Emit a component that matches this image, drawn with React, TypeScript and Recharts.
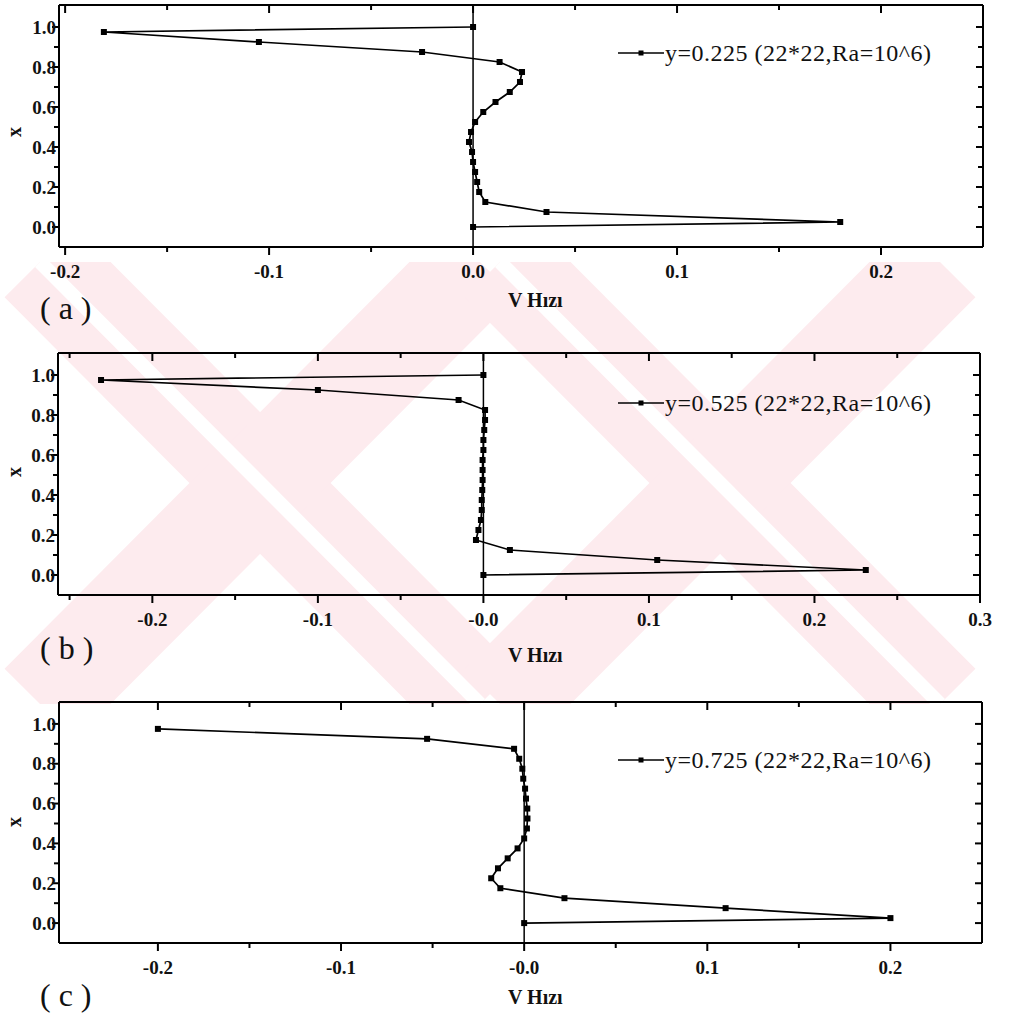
import React from 'react';
import { LineChart, Line, XAxis, YAxis, ReferenceLine, Legend } from 'recharts';

// grid positions along x (22 nodes), read from the top of each profile down
const posX = [1.0, 0.975, 0.925, 0.875, 0.825, 0.775, 0.725, 0.675, 0.625, 0.575, 0.525,
  0.475, 0.425, 0.375, 0.325, 0.275, 0.225, 0.175, 0.125, 0.075, 0.025, 0.0];

// V velocity at y=0.225
const vA = [0, -0.181, -0.105, -0.025, 0.013, 0.024, 0.023, 0.018, 0.011, 0.005, 0.001,
  -0.001, -0.002, -0.0005, 0.0, 0.001, 0.002, 0.003, 0.006, 0.036, 0.18, 0];
// V velocity at y=0.525
const vB = [0, -0.231, -0.1, -0.015, 0.001, 0.001, 0.0005, 0.0, 0.0, -0.0005, -0.0005,
  -0.0005, -0.0007, -0.001, -0.001, -0.0015, -0.003, -0.0045, 0.016, 0.105, 0.231, 0];
// V velocity at y=0.725 (no point drawn at x=1.0)
const vC = [null, -0.2, -0.053, -0.0055, -0.0027, -0.001, -0.0005, 0.0005, 0.001, 0.0017, 0.0018,
  0.0015, 0.0, -0.0036, -0.009, -0.0143, -0.018, -0.013, 0.022, 0.11, 0.2, 0];

const xMajorA = [-0.2, -0.1, 0, 0.1, 0.2];
const xLabelsA = ['-0.2', '-0.1', '0.0', '0.1', '0.2'];
const xMinorA = [-0.15, -0.05, 0.05, 0.15];

const xMajorB = [-0.2, -0.1, 0, 0.1, 0.2, 0.3];
const xLabelsB = ['-0.2', '-0.1', '-0.0', '0.1', '0.2', '0.3'];
const xMinorB = [-0.25, -0.15, -0.05, 0.05, 0.15, 0.25];

const xMajorC = [-0.2, -0.1, 0, 0.1, 0.2];
const xLabelsC = ['-0.2', '-0.1', '-0.0', '0.1', '0.2'];
const xMinorC = [-0.15, -0.05, 0.05, 0.15];

const yMajor = [0, 0.2, 0.4, 0.6, 0.8, 1.0];
const yLabels = ['0.0', '0.2', '0.4', '0.6', '0.8', '1.0'];
const yMinor = [0.1, 0.3, 0.5, 0.7, 0.9];

const legendA = 'y=0.225 (22*22,Ra=10^6)';
const legendB = 'y=0.525 (22*22,Ra=10^6)';
const legendC = 'y=0.725 (22*22,Ra=10^6)';

const FONT = '"Liberation Serif", "Times New Roman", serif';

const findIdx = (v: number, list: number[]) => list.findIndex((m) => Math.abs(m - v) < 1e-9);

const xTick = (majors: number[], labels: string[], side: 'top' | 'bottom') => (props: any) => {
  const { x, y, payload } = props;
  const i = findIdx(payload.value, majors);
  const len = i >= 0 ? 8 : 5;
  if (side === 'top') {
    return <line x1={x} y1={y} x2={x} y2={y + len} stroke="#000" strokeWidth={2} />;
  }
  return (
    <g>
      <line x1={x} y1={y} x2={x} y2={y + len} stroke="#000" strokeWidth={2} />
      {i >= 0 && (
        <text x={x} y={y + 31} textAnchor="middle" fontFamily={FONT} fontWeight="bold" fontSize={19} fill="#111">
          {labels[i]}
        </text>
      )}
    </g>
  );
};

const yTick = (side: 'left' | 'right') => (props: any) => {
  const { x, y, payload } = props;
  const i = findIdx(payload.value, yMajor);
  const len = i >= 0 ? 7 : 5;
  if (side === 'right') {
    return <line x1={x} y1={y} x2={x - len} y2={y} stroke="#000" strokeWidth={2} />;
  }
  return (
    <g>
      <line x1={x} y1={y} x2={x - len} y2={y} stroke="#000" strokeWidth={2} />
      {i >= 0 && (
        <text x={x - 3} y={y} dy="0.35em" textAnchor="end" fontFamily={FONT} fontWeight="bold" fontSize={19} fill="#111">
          {yLabels[i]}
        </text>
      )}
    </g>
  );
};

const SquareDot = (props: any) => {
  const { cx, cy, index } = props;
  if (cx == null || cy == null) return <g key={index} />;
  return <rect key={index} x={cx - 3} y={cy - 3} width={6} height={6} fill="#000" />;
};

const LegendBox = ({ text }: { text: string }) => (
  <div style={{ display: 'flex', alignItems: 'center', whiteSpace: 'nowrap' }}>
    <svg width={48} height={10}>
      <line x1={1} y1={5} x2={47} y2={5} stroke="#000" strokeWidth={1.6} />
      <rect x={21.5} y={2.5} width={5} height={5} fill="#000" />
    </svg>
    <span style={{ fontFamily: FONT, fontSize: 24, letterSpacing: 0.5, color: '#111', lineHeight: '26px' }}>{text}</span>
  </div>
);

interface PanelProps {
  values: (number | null)[];
  xDomain: [number, number];
  xMajor: number[];
  xLabels: string[];
  xMinor: number[];
  legend: string;
  legendY: number;
  plotLeft: number;
  plotRight: number;
  plotTop: number;
  plotBottom: number;
}

const TOP_H = 5;
const BOTTOM_H = 45;
const LEFT_W = 50;
const RIGHT_W = 10;

const Panel = (p: PanelProps) => {
  const data = posX
    .map((x, i) => ({ x, v: p.values[i] }))
    .filter((d) => d.v !== null);
  const xTicks = [...p.xMajor, ...p.xMinor]
    .filter((t) => t >= p.xDomain[0] && t <= p.xDomain[1])
    .sort((a, b) => a - b);
  const yTicks = [...yMajor, ...yMinor].sort((a, b) => a - b);
  const top = p.plotTop - TOP_H;
  const height = p.plotBottom - p.plotTop + TOP_H + BOTTOM_H;
  return (
    <div style={{ position: 'absolute', left: 0, top }}>
      <LineChart
        width={1030}
        height={height}
        data={data}
        margin={{ top: 0, bottom: 0, left: p.plotLeft - LEFT_W, right: 1030 - p.plotRight - RIGHT_W }}
      >
        <XAxis
          dataKey="v"
          type="number"
          domain={p.xDomain}
          allowDataOverflow
          ticks={xTicks}
          interval={0}
          height={BOTTOM_H}
          tickSize={0}
          tickMargin={0}
          axisLine={{ stroke: '#000', strokeWidth: 2 }}
          tickLine={false}
          tick={xTick(p.xMajor, p.xLabels, 'bottom')}
        />
        <XAxis
          xAxisId="top"
          orientation="top"
          dataKey="v"
          type="number"
          domain={p.xDomain}
          allowDataOverflow
          ticks={xTicks}
          interval={0}
          height={TOP_H}
          tickSize={0}
          tickMargin={0}
          axisLine={{ stroke: '#000', strokeWidth: 2 }}
          tickLine={false}
          tick={xTick(p.xMajor, p.xLabels, 'top')}
        />
        <YAxis
          type="number"
          domain={[-0.1, 1.11]}
          allowDataOverflow
          ticks={yTicks}
          interval={0}
          width={LEFT_W}
          tickSize={0}
          tickMargin={0}
          axisLine={{ stroke: '#000', strokeWidth: 2 }}
          tickLine={false}
          tick={yTick('left')}
        />
        <YAxis
          yAxisId="right"
          orientation="right"
          type="number"
          domain={[-0.1, 1.11]}
          allowDataOverflow
          ticks={yTicks}
          interval={0}
          width={RIGHT_W}
          tickSize={0}
          tickMargin={0}
          axisLine={{ stroke: '#000', strokeWidth: 2 }}
          tickLine={false}
          tick={yTick('right')}
        />
        <ReferenceLine x={0} stroke="#000" strokeWidth={1.5} />
        <Line
          dataKey="x"
          stroke="#000"
          strokeWidth={1.7}
          dot={SquareDot}
          activeDot={false}
          isAnimationActive={false}
        />
        <Line
          xAxisId="top"
          yAxisId="right"
          dataKey="x"
          stroke="none"
          dot={false}
          activeDot={false}
          legendType="none"
          isAnimationActive={false}
        />
        <Legend
          verticalAlign="middle"
          layout="horizontal"
          wrapperStyle={{ left: 617, top: p.legendY - top - 13, width: 'auto' }}
          content={() => <LegendBox text={p.legend} />}
        />
      </LineChart>
    </div>
  );
};

const Watermark = () => (
  <svg width={1030} height={1019} style={{ position: 'absolute', left: 0, top: 0 }}>
    <defs>
      <clipPath id="wm">
        <rect x={0} y={262} width={1030} height={442} />
      </clipPath>
    </defs>
    <g clipPath="url(#wm)" stroke="#fdebee" strokeWidth={100} strokeLinecap="butt">
      <line x1={40} y1={262} x2={480} y2={704} />
      <line x1={480} y1={262} x2={40} y2={704} />
      <line x1={500} y1={262} x2={940} y2={704} />
      <line x1={940} y1={262} x2={500} y2={704} />
    </g>
    <g clipPath="url(#wm)" stroke="#ffffff" strokeWidth={14} strokeLinecap="butt">
      <line x1={40} y1={262} x2={480} y2={704} />
      <line x1={500} y1={262} x2={940} y2={704} />
    </g>
  </svg>
);

const textBase: React.CSSProperties = { position: 'absolute', fontFamily: FONT, color: '#111', whiteSpace: 'nowrap' };

const XLabel = ({ top }: { top: number }) => (
  <div style={{ ...textBase, left: 5, top: top - 11, fontSize: 20, fontWeight: 'bold', transform: 'rotate(-90deg)', lineHeight: '22px', width: 18, textAlign: 'center' }}>
    x
  </div>
);

const VLabel = ({ top, left }: { top: number; left: number }) => (
  <div style={{ ...textBase, left, top: top - 11, fontSize: 20, fontWeight: 'bold', lineHeight: '22px' }}>V Hızı</div>
);

const PanelTag = ({ top, text }: { top: number; text: string }) => (
  <div style={{ ...textBase, left: 40, top: top - 18, fontSize: 32, lineHeight: '36px' }}>{text}</div>
);

export default function App() {
  return (
    <div style={{ position: 'absolute', left: 0, top: 0, width: 1030, height: 1019, background: '#fff', overflow: 'hidden' }}>
      <Watermark />
      <Panel values={vA} xDomain={[-0.203, 0.25]} xMajor={xMajorA} xLabels={xLabelsA} xMinor={xMinorA}
        legend={legendA} legendY={53} plotLeft={59} plotRight={983} plotTop={5} plotBottom={247} />
      <Panel values={vB} xDomain={[-0.257, 0.3]} xMajor={xMajorB} xLabels={xLabelsB} xMinor={xMinorB}
        legend={legendB} legendY={403} plotLeft={58} plotRight={980} plotTop={353} plotBottom={595} />
      <Panel values={vC} xDomain={[-0.254, 0.25]} xMajor={xMajorC} xLabels={xLabelsC} xMinor={xMinorC}
        legend={legendC} legendY={760} plotLeft={59} plotRight={982} plotTop={702} plotBottom={943} />
      <XLabel top={132} />
      <XLabel top={472} />
      <XLabel top={822} />
      <VLabel top={300} left={508} />
      <VLabel top={655} left={508} />
      <VLabel top={997} left={508} />
      <PanelTag top={308} text="( a )" />
      <PanelTag top={648} text="( b )" />
      <PanelTag top={995} text="( c )" />
    </div>
  );
}
